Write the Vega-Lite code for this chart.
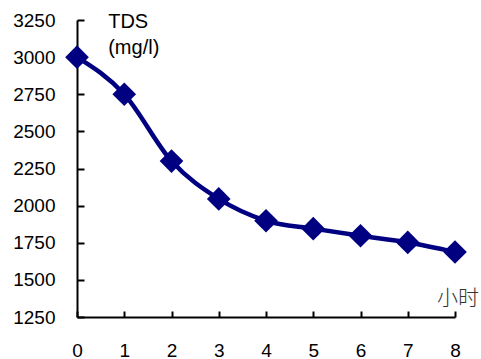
{
  "$schema": "https://vega.github.io/schema/vega-lite/v6.json",
  "autosize": "none",
  "width": 378,
  "height": 297,
  "padding": {"left": 77, "top": 20, "right": 26, "bottom": 42},
  "background": "white",
  "config": {
    "view": {"stroke": null},
    "font": "Liberation Sans",
    "axis": {"grid": false, "domainColor": "black", "domainWidth": 2, "tickColor": "black", "tickWidth": 2, "labelColor": "black", "labelFont": "Liberation Sans", "labelFontSize": 19, "labelOverlap": false, "labelFlush": false, "tickSize": -6, "format": "d", "title": null}
  },
  "encoding": {
    "x": {"field": "h", "type": "quantitative", "scale": {"domain": [0, 8], "nice": false, "zero": false},
          "axis": {"title": null, "values": [0,1,2,3,4,5,6,7,8], "format": "d", "tickSize": -6, "labelPadding": 30, "labelFlush": false, "labelOverlap": false}},
    "y": {"field": "tds", "type": "quantitative", "scale": {"domain": [1250, 3250], "nice": false, "zero": false},
          "axis": {"title": null, "values": [1250,1500,1750,2000,2250,2500,2750,3000,3250], "format": "d", "tickSize": -7, "labelPadding": 29, "labelFlush": false, "labelOverlap": false}}
  },
  "layer": [
    {
      "data": {"values": [
        {"h": 0, "tds": 3000}, {"h": 1, "tds": 2750}, {"h": 2, "tds": 2300},
        {"h": 3, "tds": 2045}, {"h": 4, "tds": 1898}, {"h": 5, "tds": 1845},
        {"h": 6, "tds": 1797}, {"h": 7, "tds": 1752}, {"h": 8, "tds": 1688}
      ]},
      "mark": {"type": "line", "interpolate": "monotone", "color": "#000080", "strokeWidth": 4.5, "clip": false,
               "point": {"shape": "diamond", "size": 560, "filled": true, "color": "#000080", "opacity": 1}}
    },
    {
      "data": {"values": [
        {"h": 0.66, "tds": 3195, "t": "TDS"},
        {"h": 0.66, "tds": 3020, "t": "(mg/l)"}
      ]},
      "mark": {"type": "text", "align": "left", "baseline": "alphabetic", "fontSize": 20, "font": "Liberation Sans", "color": "black", "clip": false},
      "encoding": {"text": {"field": "t"}}
    },
    {
      "data": {"values": [{"h": 7.62, "tds": 1330, "t": "小时"}]},
      "mark": {"type": "text", "align": "left", "baseline": "alphabetic", "fontSize": 21, "font": "Noto Sans CJK SC", "fontWeight": 300, "color": "#333333", "clip": false},
      "encoding": {"text": {"field": "t"}}
    }
  ]
}
